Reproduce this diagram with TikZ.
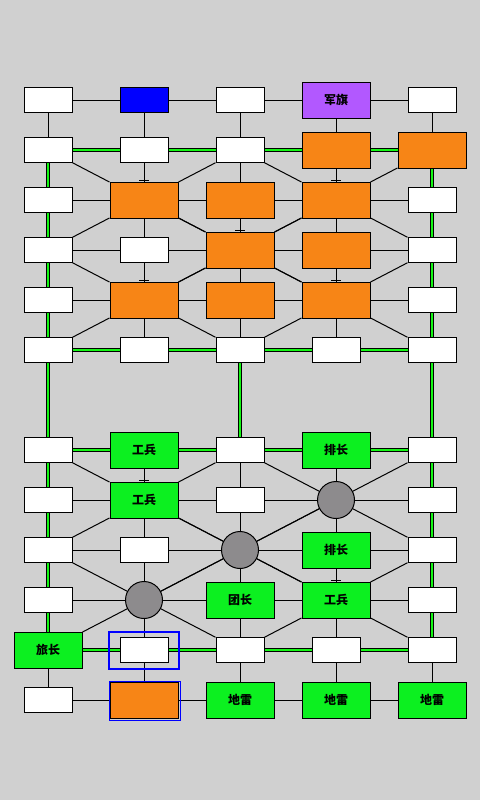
\documentclass[tikz,border=0pt]{standalone}
\usepackage{fontspec}
\newfontfamily\cjk{Noto Sans CJK SC}
\pgfdeclarelayer{bgl}
\pgfdeclarelayer{lines}
\pgfsetlayers{bgl,lines,main}
\definecolor{bggray}{RGB}{208,208,208}
\definecolor{piecegreen}{RGB}{12,240,32}
\definecolor{railgreen}{RGB}{20,245,20}
\definecolor{orangep}{RGB}{247,133,22}
\definecolor{purplep}{RGB}{178,88,255}
\definecolor{campgray}{RGB}{141,139,141}
\definecolor{blueb}{RGB}{0,0,255}
\begin{document}
\begin{tikzpicture}[x=1pt,y=-1pt,
  box/.style={rectangle,draw=black,line width=1pt,inner sep=0pt,font=\cjk\bfseries\fontsize{12}{12}\selectfont},
  sm/.style={box,minimum width=48pt,minimum height=25pt,fill=white},
  bg/.style={box,minimum width=68pt,minimum height=36pt},
  og/.style={bg,fill=orangep},
  gr/.style={bg,fill=piecegreen},
  pu/.style={bg,fill=purplep},
  bl/.style={sm,fill=blueb},
  camp/.style={circle,draw=black,line width=1pt,fill=campgray,minimum size=37pt,inner sep=0pt},
  road/.style={draw=black,line width=1pt},
  rail/.style={draw=black,line width=1pt,double=railgreen,double distance=2pt},
  tick/.style={draw=black,line width=1.6pt}]
\begin{pgfonlayer}{bgl}
\fill[bggray] (0,0) rectangle (480,800);
\end{pgfonlayer}
\useasboundingbox (0,0) rectangle (480,800);
% row 1
\node[sm] (n1-1) at (48,100) {};
\node[bl] (n2-1) at (144,100) {};
\node[sm] (n3-1) at (240,100) {};
\node[pu] (n4-1) at (336,100) {军旗};
\node[sm] (n5-1) at (432,100) {};
% row 2
\node[sm] (n1-2) at (48,150) {};
\node[sm] (n2-2) at (144,150) {};
\node[sm] (n3-2) at (240,150) {};
\node[og] (n4-2) at (336,150) {};
\node[og] (n5-2) at (432,150) {};
% row 3
\node[sm] (n1-3) at (48,200) {};
\node[og] (n2-3) at (144,200) {};
\node[og] (n3-3) at (240,200) {};
\node[og] (n4-3) at (336,200) {};
\node[sm] (n5-3) at (432,200) {};
% row 4
\node[sm] (n1-4) at (48,250) {};
\node[sm] (n2-4) at (144,250) {};
\node[og] (n3-4) at (240,250) {};
\node[og] (n4-4) at (336,250) {};
\node[sm] (n5-4) at (432,250) {};
% row 5
\node[sm] (n1-5) at (48,300) {};
\node[og] (n2-5) at (144,300) {};
\node[og] (n3-5) at (240,300) {};
\node[og] (n4-5) at (336,300) {};
\node[sm] (n5-5) at (432,300) {};
% row 6
\node[sm] (n1-6) at (48,350) {};
\node[sm] (n2-6) at (144,350) {};
\node[sm] (n3-6) at (240,350) {};
\node[sm] (n4-6) at (336,350) {};
\node[sm] (n5-6) at (432,350) {};
% row 7
\node[sm] (n1-7) at (48,450) {};
\node[gr] (n2-7) at (144,450) {工兵};
\node[sm] (n3-7) at (240,450) {};
\node[gr] (n4-7) at (336,450) {排长};
\node[sm] (n5-7) at (432,450) {};
% row 8
\node[sm] (n1-8) at (48,500) {};
\node[gr] (n2-8) at (144,500) {工兵};
\node[sm] (n3-8) at (240,500) {};
\node[camp] (n4-8) at (336,500) {};
\node[sm] (n5-8) at (432,500) {};
% row 9
\node[sm] (n1-9) at (48,550) {};
\node[sm] (n2-9) at (144,550) {};
\node[camp] (n3-9) at (240,550) {};
\node[gr] (n4-9) at (336,550) {排长};
\node[sm] (n5-9) at (432,550) {};
% row 10
\node[sm] (n1-10) at (48,600) {};
\node[camp] (n2-10) at (144,600) {};
\node[gr] (n3-10) at (240,600) {团长};
\node[gr] (n4-10) at (336,600) {工兵};
\node[sm] (n5-10) at (432,600) {};
% row 11
\node[gr] (n1-11) at (48,650) {旅长};
\node[sm] (n2-11) at (144,650) {};
\node[sm] (n3-11) at (240,650) {};
\node[sm] (n4-11) at (336,650) {};
\node[sm] (n5-11) at (432,650) {};
% row 12
\node[sm] (n1-12) at (48,700) {};
\node[og] (n2-12) at (144,700) {};
\node[gr] (n3-12) at (240,700) {地雷};
\node[gr] (n4-12) at (336,700) {地雷};
\node[gr] (n5-12) at (432,700) {地雷};
% selection frames
\node[draw=blueb,line width=2pt,minimum width=70pt,minimum height=37.5pt,inner sep=0pt] (sel1) at (144.3,650.3) {};
\node[draw=blueb,line width=1pt,minimum width=70.5pt,minimum height=38.5pt,inner sep=0pt] (sel2) at (144.8,700.8) {};
% ticks
\foreach \n in {n2-3,n4-3,n3-4,n2-5,n4-5,n2-8,n4-10}
  \draw[tick] ([xshift=-5pt,yshift=1pt]\n.north) -- ([xshift=5pt,yshift=1pt]\n.north);
\begin{pgfonlayer}{lines}
% horizontal roads
\foreach \rr in {1,3,4,5,8,9,10,12} {
  \foreach \cc in {1,2,3,4} {
    \pgfmathtruncatemacro\nc{\cc+1}
    \draw[road] (n\cc-\rr) -- (n\nc-\rr);
  }
}
% horizontal rails
\foreach \rr in {2,6,7,11} {
  \foreach \cc in {1,2,3,4} {
    \pgfmathtruncatemacro\nc{\cc+1}
    \draw[rail] (n\cc-\rr) -- (n\nc-\rr);
  }
}
% vertical roads
\foreach \cc in {1,2,3,4,5} {
  \draw[road] (n\cc-1) -- (n\cc-2);
  \draw[road] (n\cc-11) -- (n\cc-12);
}
\foreach \cc in {2,3,4} {
  \foreach \rr in {2,3,4,5,7,8,9,10} {
    \pgfmathtruncatemacro\nr{\rr+1}
    \draw[road] (n\cc-\rr) -- (n\cc-\nr);
  }
}
% vertical rails
\foreach \cc in {1,5} {
  \foreach \rr in {2,3,4,5,6,7,8,9,10} {
    \pgfmathtruncatemacro\nr{\rr+1}
    \draw[rail] (n\cc-\rr) -- (n\cc-\nr);
  }
}
\draw[rail] (n3-6) -- (n3-7);
% diagonals from camps
\foreach \cc/\rr in {2/3,4/3,3/4,2/5,4/5,2/8,4/8,3/9,2/10,4/10} {
  \pgfmathtruncatemacro\cL{\cc-1}
  \pgfmathtruncatemacro\cR{\cc+1}
  \pgfmathtruncatemacro\rU{\rr-1}
  \pgfmathtruncatemacro\rD{\rr+1}
  \draw[road] (n\cc-\rr) -- (n\cL-\rU);
  \draw[road] (n\cc-\rr) -- (n\cR-\rU);
  \draw[road] (n\cc-\rr) -- (n\cL-\rD);
  \draw[road] (n\cc-\rr) -- (n\cR-\rD);
}
\end{pgfonlayer}
\end{tikzpicture}
\end{document}
